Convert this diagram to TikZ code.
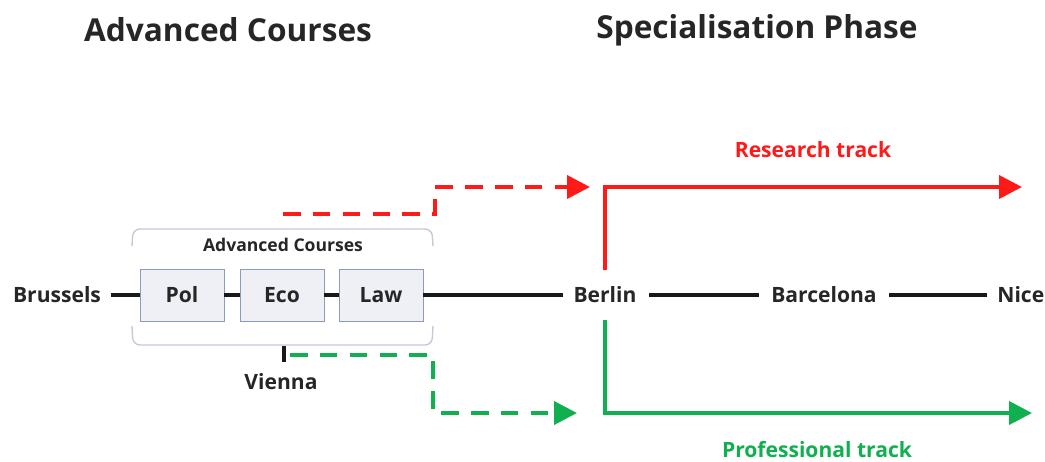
\documentclass[tikz,border=0pt]{standalone}
\usepackage{fontspec}
\setmainfont{Open Sans}
\usetikzlibrary{arrows.meta}
\definecolor{trackred}{HTML}{FF1A1A}
\definecolor{trackgreen}{HTML}{10B050}
\definecolor{boxfill}{HTML}{EEF0F5}
\definecolor{boxline}{HTML}{8C9BB8}
\definecolor{bracketline}{HTML}{C3CAD8}
\begin{document}
\begin{tikzpicture}
[
    x=0.02cm, y=-0.02cm,
    phase/.style={font=\fontsize{18}{20}\selectfont\bfseries, text=black!85},
    city/.style={font=\fontsize{12}{14}\selectfont\bfseries, text=black!85, inner sep=0pt},
    course/.style={draw=boxline, fill=boxfill, minimum width=84*0.02cm, minimum height=52*0.02cm,
        font=\fontsize{12}{14}\selectfont\bfseries, text=black!85, inner sep=0pt},
    route/.style={line width=2pt, black!90},
    track/.style={line width=2.2pt, -{Triangle[length=13pt,width=13pt]}},
    dashtrack/.style={line width=2.2pt, dash pattern=on 10pt off 7pt, -{Triangle[length=13pt,width=13pt]}},
]
\useasboundingbox (0,0) rectangle (1045,461);
% titles
\node[phase] (advtitle) at (228,30) {Advanced Courses};
\node[phase] (spectitle) at (757,30) {Specialisation Phase};
% main route
\node[city] (brussels) at (57,295) {Brussels};
\node[course] (pol) at (182,295) {Pol};
\node[course] (eco) at (282,295) {Eco};
\node[course] (law) at (381,295) {Law};
\node[city] (berlin) at (605,295) {Berlin};
\node[city] (barcelona) at (824,295) {Barcelona};
\node[city, anchor=west] (nice) at (997,295) {Nice};
\draw[route] ([xshift=10*0.02cm]brussels.east) -- (pol.west);
\draw[route] (pol) -- (eco);
\draw[route] (eco) -- (law);
\draw[route] (law.east) -- ([xshift=-10*0.02cm]berlin.west);
\draw[route] ([xshift=12*0.02cm]berlin.east) -- ([xshift=-12*0.02cm]barcelona.west);
\draw[route] ([xshift=12*0.02cm]barcelona.east) -- ([xshift=-10*0.02cm]nice.west);
% group brackets
\draw[bracketline, line width=0.8pt, rounded corners=4pt] (132,246) -- (133,229) -- (432,229) -- (433,246);
\draw[bracketline, line width=0.8pt, rounded corners=4pt] (132,326) -- (133,345) -- (432,345) -- (433,326);
\node[font=\fontsize{10}{12}\selectfont\bfseries, text=black!85] (grouplabel) at (283,245) {Advanced Courses};
% Vienna
\node[city] (vienna) at (281,382) {Vienna};
\coordinate (viennatop) at (284,346);
\draw[route] (viennatop) -- (284,362);
% dashed feeds
\coordinate (redfrom) at (283,214);
\coordinate (greenfrom) at (290,355);
\draw[dashtrack, trackred] (redfrom) -- (435,214) -- (435,187) -- (590,187);
\draw[dashtrack, trackgreen] (greenfrom) -- (433,355) -- (433,413) -- (577,413);
% tracks
\draw[track, trackred] ([yshift=17*0.02cm]berlin.north) -- (605,187) -- (1022,187);
\draw[track, trackgreen] ([yshift=-17*0.02cm]berlin.south) -- (605,413) -- (1032,413);
\node[city, text=trackred] (research) at (813,150) {Research track};
\node[city, text=trackgreen] (professional) at (817,450) {Professional track};
\end{tikzpicture}
\end{document}
